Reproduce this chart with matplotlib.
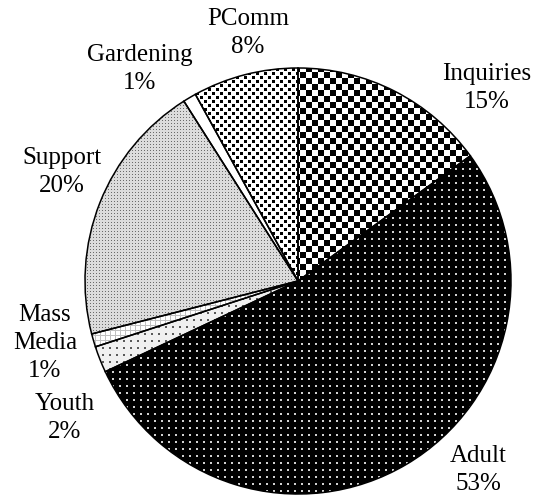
import glob
import numpy as np
import matplotlib
matplotlib.use("Agg")
import matplotlib.pyplot as plt
from matplotlib import font_manager as fm

# data
labels = ["Inquiries", "Adult", "Youth", "Mass\nMedia", "Support", "Gardening", "PComm"]
values = [15, 53, 2, 1, 20, 1, 8]

# make sure a Times-like serif is registered
for f in glob.glob("/usr/share/fonts/**/LiberationSerif-Regular.ttf", recursive=True):
    fm.fontManager.addfont(f)
serif_path = fm.findfont(fm.FontProperties(family="Liberation Serif"))
font = fm.FontProperties(fname=serif_path, size=18)

W, H = 539, 500
yy, xx = np.mgrid[0:H, 0:W]


def dots(bg, fg, step, size, ox=0, oy=0):
    img = np.full((H, W), bg, dtype=float)
    m = (((xx + ox) % step) < size) & (((yy + oy) % step) < size)
    img[m] = fg
    return img


def tex_checker():
    return np.where(((xx // 6) + (yy // 6)) % 2 == 0, 0.0, 1.0)


def tex_grid():
    img = np.ones((H, W))
    m = (xx % 5 == 0) | (yy % 5 == 0)
    img[m] = 0.75
    return img


def tex_stagger():
    img = np.ones((H, W))
    a = ((xx % 8) < 3) & ((yy % 8) < 3)
    b = (((xx + 4) % 8) < 3) & (((yy + 4) % 8) < 3)
    img[a | b] = 0.0
    return img


textures = [
    tex_checker(),
    dots(0.0, 0.82, 7, 2),
    dots(0.94, 0.35, 7, 2, 3, 3),
    tex_grid(),
    dots(0.86, 0.42, 3, 1),
    np.ones((H, W)),
    tex_stagger(),
]

fig = plt.figure(figsize=(W / 100, H / 100), dpi=100)
ax = fig.add_axes([0, 0, 1, 1])

wedges, _ = ax.pie(values, startangle=90, counterclock=False,
                   center=(298, H - 281), radius=213, frame=True,
                   wedgeprops=dict(facecolor="none", edgecolor="black", linewidth=1.1))
ax.set_xlim(0, W)
ax.set_ylim(0, H)
ax.set_aspect("equal")
ax.axis("off")

for w, t in zip(wedges, textures):
    im = ax.imshow(t, cmap="gray", vmin=0, vmax=1, extent=(0, W, 0, H),
                   origin="upper", interpolation="nearest", zorder=0)
    im.set_clip_path(w)

# label positions (pixel coords from top-left)
label_pos = [(487, 88), (478, 470), (65, 418), (45, 343), (62, 172), (140, 69), (248, 33)]
for lab, v, (px, py) in zip(labels, values, label_pos):
    ax.text(px, H - py, f"{lab}\n{v}%", ha="center", va="center",
            fontproperties=font, linespacing=1.38)

fig.savefig("out.png", dpi=100)
